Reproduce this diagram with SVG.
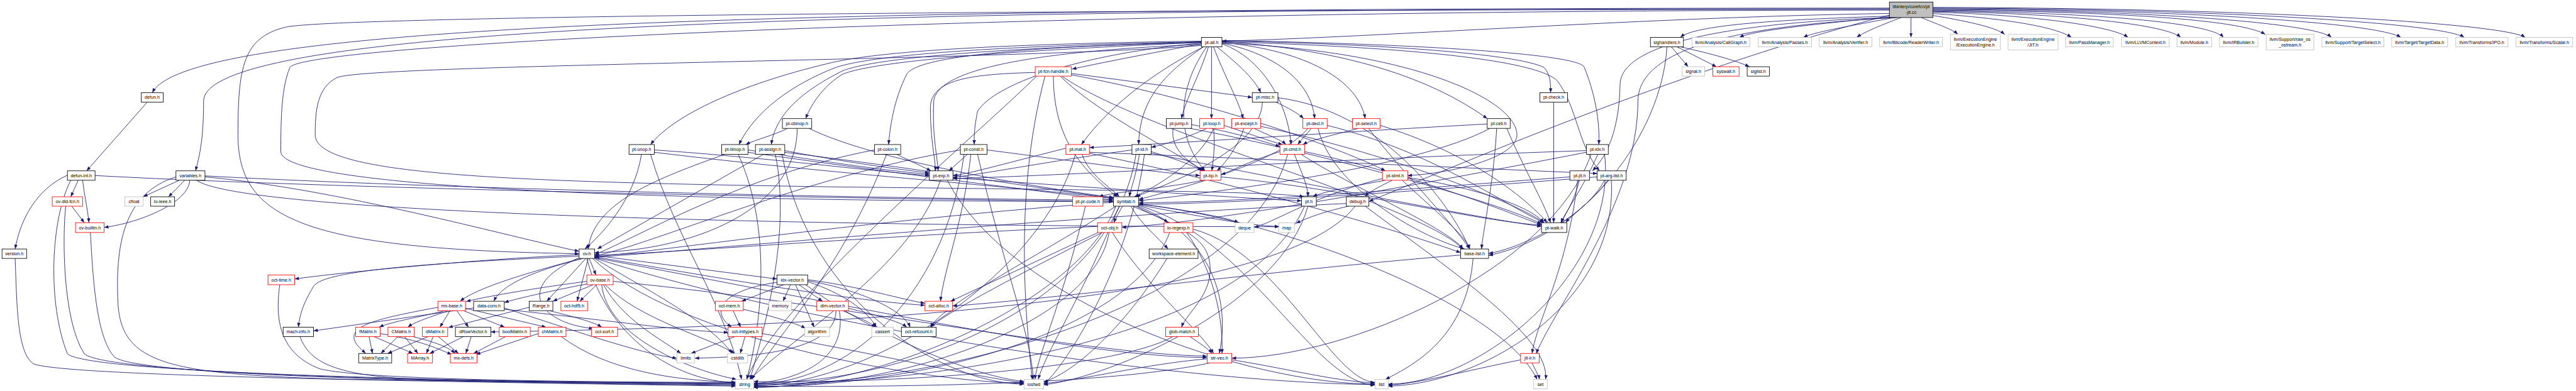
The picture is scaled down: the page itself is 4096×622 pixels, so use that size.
<svg xmlns="http://www.w3.org/2000/svg" width="4096" height="622" viewBox="0 0 4096 622">
<defs>
<marker id="a" viewBox="0 0 13 10" refX="13" refY="5" markerWidth="13" markerHeight="10" orient="auto" markerUnits="userSpaceOnUse"><path d="M0,0L13,5L0,10z" fill="#191970"/></marker>
<style>
.e path{fill:none;stroke:#191970;stroke-width:1.6;marker-end:url(#a)}
.nd rect{fill:#fff;stroke:#000;stroke-width:1.6}
.g rect{stroke:#bfbfbf}
.r rect{stroke:#ff0000}
.root rect{fill:#bfbfbf}
.nd text{font-family:"Liberation Sans",Arial,sans-serif;font-size:13.4px;fill:#000;text-anchor:middle}
</style>
</defs>
<rect x="0" y="0" width="4096" height="622" style="fill:#fff;stroke:none"/>
<g transform="scale(0.536)">
<g id="edges" class="e">
<!-- root -->
<path d="M5605,40 C4900,50 4100,110 3625,122"/>
<path d="M5605,24 C2500,24 560,60 452,275"/>
<path d="M5605,26 C2800,26 604,60 604,300 C604,420 590,470 580,507"/>
<path d="M5605,28 C3000,28 1000,50 850,80 C720,110 706,200 706,400 C706,650 900,740 1718,753"/>
<path d="M5605,30 C3000,30 900,130 860,200 C835,260 833,350 833,450 C833,560 2000,598 3303,598"/>
<path d="M5605,45 C5000,200 4300,500 4061,598"/>
<path d="M5625,52 C5300,60 4810,100 4806,250 C4803,400 4760,470 4724,507"/>
<path d="M5630,52 C5300,70 4860,110 4859,300 C4858,600 4620,900 4557,1049"/>
<path d="M5605,48 C5200,60 5020,80 4985,111"/>
<path d="M5610,50 C5400,70 5200,90 5160,111"/>
<path d="M5620,52 C5500,75 5380,95 5350,111"/>
<path d="M5640,52 C5580,75 5530,95 5508,111"/>
<path d="M5669,52 L5669,111"/>
<path d="M5700,52 C5740,70 5790,85 5808,102"/>
<path d="M5734,46 C5820,60 5920,80 5947,102"/>
<path d="M5734,40 C5950,55 6100,80 6145,111"/>
<path d="M5734,36 C6050,45 6270,80 6313,111"/>
<path d="M5734,34 C6150,40 6430,75 6469,111"/>
<path d="M5734,32 C6250,38 6560,70 6596,111"/>
<path d="M5734,30 C6300,34 6650,60 6720,102"/>
<path d="M5734,28 C6400,30 6870,70 6916,111"/>
<path d="M5734,26 C6500,28 7060,70 7122,111"/>
<path d="M5734,24 C6600,26 7250,70 7310,111"/>
<path d="M5734,22 C6700,24 7430,70 7491,111"/>
<!-- pt-all.h -->
<path d="M3564,130 C3400,160 3250,190 3180,205"/>
<path d="M3610,139 C3660,180 3720,230 3740,275"/>
<path d="M3585,139 C3560,220 3515,300 3505,352"/>
<path d="M3594,139 L3594,352"/>
<path d="M3600,139 C3630,220 3675,300 3688,352"/>
<path d="M3564,125 C3000,140 2720,170 2690,220 C2650,300 2640,380 2636,429"/>
<path d="M3564,128 C3200,160 2950,250 2900,330 C2890,380 2890,400 2890,429"/>
<path d="M3570,139 C3450,200 3300,300 3208,429"/>
<path d="M3570,139 C3450,220 3380,300 3378,429"/>
<path d="M3564,132 C3100,150 2780,200 2770,300 C2765,400 2780,460 2783,507"/>
<path d="M3580,139 C3500,250 3480,400 3575,507"/>
<path d="M3564,126 C3000,150 2600,180 2500,220 C2450,250 2410,300 2390,352"/>
<path d="M3564,122 C3000,130 2600,150 2450,190 C2200,250 2000,340 1930,429"/>
<path d="M3564,124 C3000,135 2600,160 2480,200 C2350,250 2240,330 2192,429"/>
<path d="M3564,126 C3000,140 2600,170 2500,210 C2360,280 2300,350 2288,429"/>
<path d="M3625,130 C3740,170 3820,300 3830,429"/>
<path d="M3625,128 C3780,160 3890,240 3900,352"/>
<path d="M3625,126 C3880,150 4030,240 4050,352"/>
<path d="M3625,124 C3900,140 4200,200 4412,352"/>
<path d="M3625,122 C4100,130 4500,160 4580,200 C4600,220 4600,250 4600,275"/>
<path d="M3625,120 C4200,130 4690,160 4700,200 C4740,300 4745,380 4743,429"/>
<path d="M3625,124 C4200,140 4560,180 4620,240 C4680,320 4680,430 4745,507"/>
<path d="M3625,128 C4200,150 4500,300 4500,400 C4500,470 4300,515 4176,521"/>
<path d="M3564,135 C3000,180 1100,190 1000,230 C940,260 935,330 935,400 C935,520 1500,540 2500,555 C3400,565 3800,570 3868,584"/>
<!-- pt-fcn-handle.h -->
<path d="M3178,218 L3715,289"/>
<path d="M3071,215 C2900,220 2760,230 2760,320 C2760,420 2775,470 2775,507"/>
<path d="M3145,226 C3250,330 3450,430 3570,507"/>
<path d="M3125,226 C3125,400 3200,500 3315,584"/>
<path d="M3150,226 C3400,400 4200,600 4340,739"/>
<path d="M3178,222 C3600,300 4000,450 4110,507"/>
<path d="M3075,226 C2900,400 2300,900 2215,1126"/>
<path d="M3100,226 C3000,600 3050,1000 3062,1126"/>
<!-- pt-misc.h -->
<path d="M3785,303 C3820,320 3850,335 3867,352"/>
<path d="M3791,290 C4100,330 4300,600 4360,739"/>
<path d="M3745,303 C3740,450 3450,550 3370,584"/>
<!-- pt-check.h -->
<path d="M4609,303 L4609,661"/>
<!-- pt-cbinop.h -->
<path d="M2336,381 C2300,400 2240,415 2212,429"/>
<path d="M2365,381 C2365,600 2100,740 1764,750"/>
<path d="M2400,381 C2600,480 3100,560 3303,586"/>
<!-- pt-unop.h -->
<path d="M1941,445 C2300,470 2600,510 2757,521"/>
<path d="M1903,458 C1880,600 1780,700 1735,739"/>
<path d="M1930,458 C2000,700 2150,900 2200,1126"/>
<path d="M1941,452 C2500,520 3100,560 3303,590"/>
<!-- pt-binop.h -->
<path d="M2219,445 C2450,480 2650,510 2757,517"/>
<path d="M2150,458 C1950,530 1760,600 1745,739"/>
<path d="M2190,458 C2300,700 2250,1000 2215,1126"/>
<path d="M2219,452 C2700,520 3100,570 3303,594"/>
<!-- pt-assign.h -->
<path d="M2328,447 C2500,480 2680,505 2757,513"/>
<path d="M2265,458 L1772,739"/>
<path d="M2300,458 C2350,700 2260,1000 2225,1126"/>
<path d="M2328,452 C2800,510 3150,570 3303,588"/>
<path d="M2320,458 C2400,900 2800,1140 3038,1140"/>
<!-- pt-colon.h -->
<path d="M2660,458 L2762,507"/>
<path d="M2594,445 C2200,520 1900,700 1764,756"/>
<path d="M2630,458 C2500,800 2300,1000 2230,1126"/>
<!-- pt-const.h -->
<path d="M2870,458 L2815,507"/>
<path d="M2928,445 C3200,480 3450,515 3560,521"/>
<path d="M2880,458 C2860,650 2800,800 2790,894"/>
<path d="M2849,445 C2400,520 1950,720 1764,760"/>
<path d="M2900,458 C2980,800 3060,1000 3065,1126"/>
<path d="M2860,458 C2800,900 2500,1140 2236,1140"/>
<!-- pt-mat.h -->
<path d="M3162,440 C3000,480 2880,515 2827,521"/>
<path d="M3232,452 C3700,470 4400,500 4738,515"/>
<path d="M3232,455 C3700,550 4200,700 4333,750"/>
<path d="M3210,458 C3230,520 3300,560 3320,584"/>
<path d="M3190,458 C3100,800 2600,1140 2236,1145"/>
<!-- pt-id.h -->
<path d="M3415,450 C3480,470 3540,490 3565,507"/>
<path d="M3358,445 C3100,480 2900,520 2827,526"/>
<path d="M3415,455 C3900,550 4400,650 4573,672"/>
<path d="M3380,458 C3370,520 3355,560 3350,584"/>
<path d="M3370,458 C3300,900 2700,1140 2236,1137"/>
<path d="M3395,458 C3350,800 3150,1100 3096,1140"/>
<!-- pt-jump.h -->
<path d="M3535,370 C3650,390 3750,420 3797,435"/>
<path d="M3480,381 C3470,450 3540,490 3575,507"/>
<path d="M3530,381 C3900,450 4450,600 4573,665"/>
<!-- pt-loop.h -->
<path d="M3631,372 C3700,395 3770,420 3805,429"/>
<path d="M3580,381 C3520,410 3450,430 3415,437"/>
<path d="M3600,381 C3560,480 3420,560 3365,584"/>
<path d="M3600,381 C3605,430 3600,470 3595,507"/>
<!-- pt-except.h -->
<path d="M3720,381 C3760,400 3800,415 3815,429"/>
<path d="M3690,381 C3670,440 3630,490 3610,507"/>
<path d="M3740,375 C4100,450 4500,600 4580,661"/>
<!-- pt-cmd.h -->
<path d="M3840,458 C3860,510 3880,550 3880,584"/>
<path d="M3797,450 C3700,480 3650,510 3622,518"/>
<path d="M3870,450 C4200,520 4450,620 4573,668"/>
<path d="M3860,458 C4000,550 4300,680 4340,739"/>
<path d="M3820,458 C3700,900 2800,1145 2236,1143"/>
<!-- pt-decl.h -->
<path d="M3890,381 C3875,400 3860,415 3850,429"/>
<path d="M3910,381 C3950,550 4200,700 4345,739"/>
<path d="M3937,372 C4250,450 4450,600 4580,661"/>
<path d="M3880,381 C3800,480 3500,560 3378,592"/>
<!-- pt-select.h -->
<path d="M4030,381 C3960,400 3890,415 3865,429"/>
<path d="M4060,381 C4150,500 4300,650 4360,739"/>
<path d="M4094,372 C4350,450 4520,580 4590,661"/>
<!-- pt-cell.h -->
<path d="M4412,368 C4000,390 3500,425 3232,438"/>
<path d="M4440,381 C4430,550 4400,680 4395,739"/>
<path d="M4470,381 C4520,500 4580,600 4600,661"/>
<path d="M4420,381 C4200,500 3600,570 3378,596"/>
<!-- pt-idx.h -->
<path d="M4706,447 C4000,470 3200,520 2827,530"/>
<path d="M4720,458 C4600,800 4000,1063 3654,1063"/>
<path d="M4760,458 C4800,800 4400,1140 4118,1140"/>
<path d="M4706,452 C4200,550 3600,660 3328,675"/>
<path d="M4740,458 C4700,550 4650,620 4630,661"/>
<!-- pt-exp.h -->
<path d="M2827,528 C3300,560 3700,590 3861,596"/>
<path d="M2790,535 C2700,800 2350,1000 2225,1126"/>
<path d="M2810,535 C3000,900 3700,1140 4079,1140"/>
<!-- pt-bp.h -->
<path d="M3570,535 C3450,560 3300,570 3260,584"/>
<path d="M3622,525 C4000,560 4400,660 4573,668"/>
<!-- pt-stmt.h -->
<path d="M4110,535 C4000,555 3920,570 3895,584"/>
<path d="M4130,535 C4090,555 4060,570 4050,584"/>
<path d="M4160,535 C4250,620 4350,700 4360,739"/>
<path d="M4176,527 C4400,560 4550,620 4580,661"/>
<path d="M4101,530 C3900,580 3780,660 3720,675"/>
<!-- pt-jit.h -->
<path d="M4680,535 C4650,800 4560,950 4545,1049"/>
<path d="M4685,535 C4670,600 4640,640 4632,661"/>
<path d="M4657,525 C4200,560 3700,600 3378,602"/>
<!-- pt-arg-list.h -->
<path d="M4760,535 C4700,650 4500,740 4416,752"/>
<path d="M4780,535 C4800,900 4400,1140 4118,1146"/>
<path d="M4770,535 C4720,600 4660,640 4645,661"/>
<path d="M4738,525 C4300,560 3700,605 3378,606"/>
<!-- defun.h / defun-int.h -->
<path d="M437,303 L257,507"/>
<path d="M232,535 L210,584"/>
<path d="M245,535 C250,580 260,620 264,661"/>
<path d="M200,520 C110,560 60,650 45,739"/>
<path d="M282,521 C1000,560 2500,590 3303,598"/>
<path d="M210,535 C150,650 140,900 200,1050 C260,1110 1500,1135 2182,1138"/>
<!-- variables.h -->
<path d="M532,535 L425,584"/>
<path d="M548,535 L500,584"/>
<path d="M563,535 C560,600 420,660 309,675"/>
<path d="M608,525 C1000,560 1500,700 1718,746"/>
<path d="M608,522 C1300,560 2600,590 3303,594"/>
<path d="M522,525 C380,570 340,700 350,900 C360,1080 500,1110 1000,1125 C1600,1135 2000,1138 2182,1140"/>
<path d="M583,535 C700,620 2000,670 3794,673"/>
<!-- ov-dld-fcn.h / ov-builtin.h / version.h -->
<path d="M213,612 L250,661"/>
<path d="M195,612 C185,700 185,950 250,1050 C320,1115 1500,1135 2182,1142"/>
<path d="M268,690 C275,800 282,1000 340,1060 C420,1120 1500,1136 2182,1144"/>
<path d="M45,767 C50,900 50,1050 100,1080 C200,1120 1500,1135 2182,1146"/>
<!-- symtab.h -->
<path d="M3330,612 C3320,630 3310,645 3305,661"/>
<path d="M3360,612 C3400,630 3445,645 3465,661"/>
<path d="M3378,605 C3500,620 3640,645 3675,661"/>
<path d="M3378,608 C3550,640 3700,670 3794,672"/>
<path d="M3355,612 C3380,660 3440,710 3465,739"/>
<path d="M3370,612 C3500,680 3590,700 3590,800 C3590,880 3520,930 3505,971"/>
<path d="M3375,612 C3600,700 3650,900 3617,1049"/>
<path d="M3378,610 C3700,700 3900,1140 4079,1143"/>
<path d="M3378,606 C3800,650 4450,900 4560,1126"/>
<path d="M3310,612 C3200,900 2600,1150 2236,1150"/>
<path d="M3303,600 C2600,650 2000,740 1764,762"/>
<path d="M3310,612 C3100,750 2800,900 2760,971"/>
<path d="M3320,612 C3200,900 3100,1050 3080,1126"/>
<!-- oct-obj.h -->
<path d="M3258,690 L2820,894"/>
<path d="M3300,690 C3400,850 3560,980 3600,1049"/>
<path d="M3256,672 C2600,700 2000,750 1764,758"/>
<path d="M3290,690 C3250,950 2700,1150 2236,1148"/>
<path d="M3270,690 C3050,800 2800,930 2762,971"/>
<!-- lo-regexp.h / workspace-element.h / glob-match.h / str-vec.h -->
<path d="M3520,690 C3600,800 3630,950 3625,1049"/>
<path d="M3539,680 C3800,750 3950,1130 4079,1135"/>
<path d="M3470,690 C3350,1000 2700,1148 2236,1148"/>
<path d="M3462,767 C3350,950 3200,1100 3096,1134"/>
<path d="M3530,999 C3560,1020 3585,1035 3595,1049"/>
<path d="M3480,999 C3300,1100 2600,1140 2236,1132"/>
<path d="M3581,1065 C3400,1080 3200,1130 3096,1138"/>
<path d="M3654,1068 C3800,1090 3950,1130 4079,1137"/>
<path d="M3590,1077 C3300,1140 2700,1150 2236,1146"/>
<!-- base-list.h / jit-ir.h / debug.h / pt.h / pt-pr-code.h -->
<path d="M4370,767 C4350,1000 4200,1080 4110,1126"/>
<path d="M4333,757 C3800,800 3100,890 2826,908"/>
<path d="M4511,1068 C4350,1100 4200,1140 4118,1143"/>
<path d="M4545,1077 C4555,1100 4565,1115 4567,1126"/>
<path d="M4000,612 C3920,630 3870,650 3845,663"/>
<path d="M4050,612 C4300,800 4600,1000 4585,1126"/>
<path d="M3994,604 C3200,640 2200,730 1764,764"/>
<path d="M4020,612 C3800,900 2500,970 1456,985"/>
<path d="M3870,612 C3700,1000 2800,1140 2236,1140"/>
<path d="M3880,612 C3800,900 3300,1120 3096,1142"/>
<path d="M3220,612 C3150,900 3080,1050 3070,1126"/>
<!-- sighandlers.h -->
<path d="M4958,139 L5008,198"/>
<path d="M4975,139 L5092,198"/>
<path d="M4985,139 C5080,160 5150,180 5190,198"/>
<path d="M4945,139 C4930,400 4700,700 4416,758"/>
<!-- ov.h -->
<path d="M1725,767 C1600,800 1420,850 1365,894"/>
<path d="M1730,767 C1600,800 1490,840 1465,894"/>
<path d="M1738,767 L1622,894"/>
<path d="M1745,767 L1712,894"/>
<path d="M1748,767 L1768,816"/>
<path d="M1764,758 L2305,828"/>
<path d="M1764,767 C1900,850 2100,950 2172,1049"/>
<path d="M1718,756 C1400,770 1000,810 874,828"/>
<path d="M1718,760 C1300,780 960,800 930,850 C900,900 890,930 885,971"/>
<path d="M1764,762 C2100,820 2500,890 2744,906"/>
<path d="M1764,765 C2500,900 3200,1060 3581,1061"/>
<path d="M1741,767 C1800,1000 2000,1130 2182,1136"/>
<path d="M1758,767 C2000,1000 2700,1130 3038,1138"/>
<path d="M1764,766 C2500,1000 3600,1140 4079,1141"/>
<path d="M1718,765 C1520,850 1600,960 1760,975"/>
<!-- ov-base.h -->
<path d="M1741,835 C1550,860 1420,885 1383,895"/>
<path d="M1745,842 C1600,870 1520,890 1496,898"/>
<path d="M1760,845 L1640,894"/>
<path d="M1770,845 L1720,894"/>
<path d="M1795,845 C1900,950 2100,1000 2180,1049"/>
<path d="M1790,845 C1850,950 1950,1000 2020,1049"/>
<path d="M1785,845 C1800,1000 2050,1100 2185,1126"/>
<path d="M1819,835 C2500,900 3200,1050 3581,1057"/>
<!-- idx-vector.h -->
<path d="M2325,845 L2200,894"/>
<path d="M2345,845 L2323,894"/>
<path d="M2370,845 L2440,894"/>
<path d="M2360,845 L2415,971"/>
<path d="M2305,838 C2150,860 2100,920 2170,971"/>
<path d="M2396,836 C2500,870 2570,920 2600,971"/>
<path d="M2396,833 C2550,860 2680,920 2700,971"/>
<path d="M2396,830 C2550,850 2680,890 2744,900"/>
<path d="M2390,845 C2600,1000 2900,1120 3038,1132"/>
<!-- oct-mem.h / dim-vector.h / oct-inttypes.h -->
<path d="M2175,922 L2197,971"/>
<path d="M2205,918 C2300,940 2360,960 2390,974"/>
<path d="M2500,922 C2540,940 2580,955 2598,971"/>
<path d="M2517,915 C2600,935 2670,955 2690,971"/>
<path d="M2480,922 C2480,1050 2200,1060 2061,1063"/>
<path d="M2490,922 C2520,1100 2300,1135 2236,1138"/>
<path d="M2180,999 L2050,1049"/>
<path d="M2210,999 L2196,1049"/>
<path d="M2261,990 C2600,1050 2900,1120 3038,1136"/>
<!-- mx-base.h -->
<path d="M1320,922 C1250,940 1160,955 1125,971"/>
<path d="M1330,922 C1280,940 1230,955 1210,971"/>
<path d="M1335,922 L1305,971"/>
<path d="M1355,922 L1390,971"/>
<path d="M1375,922 L1497,971"/>
<path d="M1381,915 L1620,971"/>
<path d="M1299,912 C1150,940 1050,960 1050,1000 C1050,1020 1070,1035 1085,1049"/>
<!-- data-conv.h / Range.h -->
<path d="M1405,914 L930,982"/>
<path d="M1496,914 C1700,980 1900,1050 2008,1063"/>
<path d="M1496,918 C1800,950 2000,980 2160,987"/>
<path d="M1570,912 L1330,972"/>
<path d="M1630,922 C1700,940 1760,955 1785,971"/>
<!-- matrices -->
<path d="M1095,999 L1105,1049"/>
<path d="M1110,999 L1225,1049"/>
<path d="M1128,990 C1250,1010 1310,1040 1340,1052"/>
<path d="M1180,999 L1130,1049"/>
<path d="M1200,999 L1240,1049"/>
<path d="M1225,999 C1290,1015 1330,1030 1350,1049"/>
<path d="M1270,999 L1150,1049"/>
<path d="M1285,999 L1265,1049"/>
<path d="M1300,999 L1360,1049"/>
<path d="M1375,999 L1275,1049"/>
<path d="M1398,999 L1382,1049"/>
<path d="M1500,999 L1405,1049"/>
<path d="M1597,990 L1412,1052"/>
<path d="M1665,999 C1800,1100 2000,1130 2182,1134"/>
<!-- mach-info.h / oct-time.h -->
<path d="M890,999 C920,1080 1000,1120 1300,1128 C1700,1134 2000,1136 2182,1137"/>
<path d="M830,845 C815,950 830,1050 950,1095 C1100,1130 1800,1134 2182,1135"/>
</g>

<g id="n-root" class="nd root"><rect x="5605" y="6" width="129" height="46"/><text x="5669.5" y="24.5">libinterp/corefcn/pt</text><text x="5669.5" y="41.5">-jit.cc</text></g>
<g id="n-pt-all" class="nd"><rect x="3564" y="111" width="61" height="28"/><text x="3594.5" y="129.7">pt-all.h</text></g>
<g id="n-sighandlers" class="nd"><rect x="4896" y="111" width="98" height="28"/><text x="4945" y="129.7">sighandlers.h</text></g>
<g id="n-callgraph" class="nd g"><rect x="5019" y="111" width="172" height="28"/><text x="5105" y="129.7">llvm/Analysis/CallGraph.h</text></g>
<g id="n-passes" class="nd g"><rect x="5216" y="111" width="158" height="28"/><text x="5295" y="129.7">llvm/Analysis/Passes.h</text></g>
<g id="n-verifier" class="nd g"><rect x="5397" y="111" width="156" height="28"/><text x="5475" y="129.7">llvm/Analysis/Verifier.h</text></g>
<g id="n-readerwriter" class="nd g"><rect x="5576" y="111" width="186" height="28"/><text x="5669" y="129.7">llvm/Bitcode/ReaderWriter.h</text></g>
<g id="n-execengine" class="nd g"><rect x="5786" y="102" width="148" height="46"/><text x="5860" y="120.5">llvm/ExecutionEngine</text><text x="5860" y="137.5">/ExecutionEngine.h</text></g>
<g id="n-jit" class="nd g"><rect x="5957" y="102" width="148" height="46"/><text x="6031" y="120.5">llvm/ExecutionEngine</text><text x="6031" y="137.5">/JIT.h</text></g>
<g id="n-passmanager" class="nd g"><rect x="6128" y="111" width="141" height="28"/><text x="6198.5" y="129.7">llvm/PassManager.h</text></g>
<g id="n-llvmcontext" class="nd g"><rect x="6294" y="111" width="141" height="28"/><text x="6364.5" y="129.7">llvm/LLVMContext.h</text></g>
<g id="n-module" class="nd g"><rect x="6458" y="111" width="103" height="28"/><text x="6509.5" y="129.7">llvm/Module.h</text></g>
<g id="n-irbuilder" class="nd g"><rect x="6584" y="111" width="114" height="28"/><text x="6641" y="129.7">llvm/IRBuilder.h</text></g>
<g id="n-rawos" class="nd g"><rect x="6723" y="102" width="141" height="46"/><text x="6793.5" y="120.5">llvm/Support/raw_os</text><text x="6793.5" y="137.5">_ostream.h</text></g>
<g id="n-targetselect" class="nd g"><rect x="6888" y="111" width="184" height="28"/><text x="6980" y="129.7">llvm/Support/TargetSelect.h</text></g>
<g id="n-targetdata" class="nd g"><rect x="7095" y="111" width="166" height="28"/><text x="7178" y="129.7">llvm/Target/TargetData.h</text></g>
<g id="n-ipo" class="nd g"><rect x="7285" y="111" width="155" height="28"/><text x="7362.5" y="129.7">llvm/Transforms/IPO.h</text></g>
<g id="n-scalar" class="nd g"><rect x="7464" y="111" width="168" height="28"/><text x="7548" y="129.7">llvm/Transforms/Scalar.h</text></g>

<g id="n-pt-fcn-handle" class="nd r"><rect x="3071" y="198" width="107" height="28"/><text x="3124.5" y="216.7">pt-fcn-handle.h</text></g>
<g id="n-signal" class="nd g"><rect x="4990" y="198" width="67" height="28"/><text x="5023.5" y="216.7">signal.h</text></g>
<g id="n-syswait" class="nd r"><rect x="5081" y="198" width="78" height="28"/><text x="5120" y="216.7">syswait.h</text></g>
<g id="n-siglist" class="nd"><rect x="5183" y="198" width="66" height="28"/><text x="5216" y="216.7">siglist.h</text></g>

<g id="n-defun" class="nd"><rect x="419" y="275" width="65" height="28"/><text x="451.5" y="293.7">defun.h</text></g>
<g id="n-pt-misc" class="nd"><rect x="3715" y="275" width="76" height="28"/><text x="3753" y="293.7">pt-misc.h</text></g>
<g id="n-pt-check" class="nd"><rect x="4568" y="275" width="82" height="28"/><text x="4609" y="293.7">pt-check.h</text></g>

<g id="n-pt-cbinop" class="nd"><rect x="2321" y="352" width="87" height="29"/><text x="2364.5" y="371.2">pt-cbinop.h</text></g>
<g id="n-pt-jump" class="nd"><rect x="3460" y="352" width="75" height="29"/><text x="3497.5" y="371.2">pt-jump.h</text></g>
<g id="n-pt-loop" class="nd r"><rect x="3559" y="352" width="72" height="29"/><text x="3595" y="371.2">pt-loop.h</text></g>
<g id="n-pt-except" class="nd r"><rect x="3654" y="352" width="86" height="29"/><text x="3697" y="371.2">pt-except.h</text></g>
<g id="n-pt-decl" class="nd r"><rect x="3865" y="352" width="72" height="29"/><text x="3901" y="371.2">pt-decl.h</text></g>
<g id="n-pt-select" class="nd r"><rect x="4012" y="352" width="82" height="29"/><text x="4053" y="371.2">pt-select.h</text></g>
<g id="n-pt-cell" class="nd"><rect x="4412" y="352" width="68" height="29"/><text x="4446" y="371.2">pt-cell.h</text></g>

<g id="n-pt-unop" class="nd"><rect x="1866" y="429" width="75" height="29"/><text x="1903.5" y="448.2">pt-unop.h</text></g>
<g id="n-pt-binop" class="nd"><rect x="2141" y="429" width="78" height="29"/><text x="2180" y="448.2">pt-binop.h</text></g>
<g id="n-pt-assign" class="nd"><rect x="2241" y="429" width="87" height="29"/><text x="2284.5" y="448.2">pt-assign.h</text></g>
<g id="n-pt-colon" class="nd"><rect x="2594" y="429" width="78" height="29"/><text x="2633" y="448.2">pt-colon.h</text></g>
<g id="n-pt-const" class="nd"><rect x="2849" y="429" width="79" height="29"/><text x="2888.5" y="448.2">pt-const.h</text></g>
<g id="n-pt-mat" class="nd r"><rect x="3162" y="429" width="70" height="29"/><text x="3197" y="448.2">pt-mat.h</text></g>
<g id="n-pt-id" class="nd"><rect x="3358" y="429" width="57" height="29"/><text x="3386.5" y="448.2">pt-id.h</text></g>
<g id="n-pt-cmd" class="nd r"><rect x="3797" y="429" width="73" height="29"/><text x="3833.5" y="448.2">pt-cmd.h</text></g>
<g id="n-pt-idx" class="nd"><rect x="4706" y="429" width="65" height="29"/><text x="4738.5" y="448.2">pt-idx.h</text></g>

<g id="n-defun-int" class="nd"><rect x="200" y="507" width="82" height="28"/><text x="241" y="525.7">defun-int.h</text></g>
<g id="n-variables" class="nd"><rect x="522" y="507" width="86" height="28"/><text x="565" y="525.7">variables.h</text></g>
<g id="n-pt-exp" class="nd"><rect x="2757" y="507" width="70" height="28"/><text x="2792" y="525.7">pt-exp.h</text></g>
<g id="n-pt-bp" class="nd r"><rect x="3560" y="507" width="62" height="28"/><text x="3591" y="525.7">pt-bp.h</text></g>
<g id="n-pt-stmt" class="nd r"><rect x="4101" y="507" width="75" height="28"/><text x="4138.5" y="525.7">pt-stmt.h</text></g>
<g id="n-pt-jit" class="nd"><rect x="4657" y="507" width="58" height="28"/><text x="4686" y="525.7">pt-jit.h</text></g>
<g id="n-pt-arg-list" class="nd"><rect x="4738" y="507" width="86" height="28"/><text x="4781" y="525.7">pt-arg-list.h</text></g>

<g id="n-ov-dld-fcn" class="nd r"><rect x="155" y="584" width="90" height="28"/><text x="200" y="602.7">ov-dld-fcn.h</text></g>
<g id="n-cfloat" class="nd g"><rect x="370" y="584" width="55" height="28"/><text x="397.5" y="602.7">cfloat</text></g>
<g id="n-lo-ieee" class="nd"><rect x="447" y="584" width="71" height="28"/><text x="482.5" y="602.7">lo-ieee.h</text></g>
<g id="n-pt-pr-code" class="nd r"><rect x="3182" y="584" width="90" height="28"/><text x="3227" y="602.7">pt-pr-code.h</text></g>
<g id="n-symtab" class="nd"><rect x="3303" y="584" width="75" height="28"/><text x="3340.5" y="602.7">symtab.h</text></g>
<g id="n-pt" class="nd"><rect x="3861" y="584" width="44" height="28"/><text x="3883" y="602.7">pt.h</text></g>
<g id="n-debug" class="nd"><rect x="3994" y="584" width="67" height="28"/><text x="4027.5" y="602.7">debug.h</text></g>

<g id="n-ov-builtin" class="nd r"><rect x="224" y="661" width="85" height="29"/><text x="266.5" y="680.2">ov-builtin.h</text></g>
<g id="n-oct-obj" class="nd r"><rect x="3256" y="661" width="72" height="29"/><text x="3292" y="680.2">oct-obj.h</text></g>
<g id="n-lo-regexp" class="nd r"><rect x="3453" y="661" width="86" height="29"/><text x="3496" y="680.2">lo-regexp.h</text></g>
<g id="n-deque" class="nd g"><rect x="3664" y="661" width="56" height="29"/><text x="3692" y="680.2">deque</text></g>
<g id="n-map" class="nd g"><rect x="3794" y="661" width="46" height="29"/><text x="3817" y="680.2">map</text></g>
<g id="n-pt-walk" class="nd"><rect x="4573" y="661" width="75" height="29"/><text x="4610.5" y="680.2">pt-walk.h</text></g>

<g id="n-version" class="nd"><rect x="6" y="739" width="73" height="28"/><text x="42.5" y="757.7">version.h</text></g>
<g id="n-ov" class="nd"><rect x="1718" y="739" width="46" height="28"/><text x="1741" y="757.7">ov.h</text></g>
<g id="n-workspace-element" class="nd"><rect x="3409" y="739" width="145" height="28"/><text x="3481.5" y="757.7">workspace-element.h</text></g>
<g id="n-base-list" class="nd"><rect x="4333" y="739" width="83" height="28"/><text x="4374.5" y="757.7">base-list.h</text></g>

<g id="n-oct-time" class="nd r"><rect x="795" y="816" width="79" height="29"/><text x="834.5" y="835.2">oct-time.h</text></g>
<g id="n-ov-base" class="nd r"><rect x="1741" y="816" width="78" height="29"/><text x="1780" y="835.2">ov-base.h</text></g>
<g id="n-idx-vector" class="nd"><rect x="2305" y="816" width="91" height="29"/><text x="2350.5" y="835.2">idx-vector.h</text></g>

<g id="n-mx-base" class="nd r"><rect x="1299" y="894" width="82" height="28"/><text x="1340" y="912.7">mx-base.h</text></g>
<g id="n-data-conv" class="nd"><rect x="1405" y="894" width="91" height="28"/><text x="1450.5" y="912.7">data-conv.h</text></g>
<g id="n-range" class="nd"><rect x="1570" y="894" width="70" height="28"/><text x="1605" y="912.7">Range.h</text></g>
<g id="n-oct-hdf5" class="nd r"><rect x="1664" y="894" width="79" height="28"/><text x="1703.5" y="912.7">oct-hdf5.h</text></g>
<g id="n-oct-mem" class="nd r"><rect x="2122" y="894" width="83" height="28"/><text x="2163.5" y="912.7">oct-mem.h</text></g>
<g id="n-memory" class="nd g"><rect x="2281" y="894" width="67" height="28"/><text x="2314.5" y="912.7">memory</text></g>
<g id="n-dim-vector" class="nd r"><rect x="2423" y="894" width="94" height="28"/><text x="2470" y="912.7">dim-vector.h</text></g>
<g id="n-oct-alloc" class="nd r"><rect x="2744" y="894" width="82" height="28"/><text x="2785" y="912.7">oct-alloc.h</text></g>

<g id="n-mach-info" class="nd"><rect x="840" y="971" width="90" height="28"/><text x="885" y="989.7">mach-info.h</text></g>
<g id="n-fmatrix" class="nd r"><rect x="1055" y="971" width="73" height="28"/><text x="1091.5" y="989.7">fMatrix.h</text></g>
<g id="n-cmatrix" class="nd r"><rect x="1151" y="971" width="78" height="28"/><text x="1190" y="989.7">CMatrix.h</text></g>
<g id="n-dmatrix" class="nd r"><rect x="1253" y="971" width="75" height="28"/><text x="1290.5" y="989.7">dMatrix.h</text></g>
<g id="n-drowvector" class="nd"><rect x="1351" y="971" width="105" height="28"/><text x="1403.5" y="989.7">dRowVector.h</text></g>
<g id="n-boolmatrix" class="nd r"><rect x="1481" y="971" width="92" height="28"/><text x="1527" y="989.7">boolMatrix.h</text></g>
<g id="n-chmatrix" class="nd r"><rect x="1597" y="971" width="82" height="28"/><text x="1638" y="989.7">chMatrix.h</text></g>
<g id="n-oct-sort" class="nd r"><rect x="1755" y="971" width="77" height="28"/><text x="1793.5" y="989.7">oct-sort.h</text></g>
<g id="n-oct-inttypes" class="nd r"><rect x="2160" y="971" width="101" height="28"/><text x="2210.5" y="989.7">oct-inttypes.h</text></g>
<g id="n-algorithm" class="nd g"><rect x="2387" y="971" width="74" height="28"/><text x="2424" y="989.7">algorithm</text></g>
<g id="n-cassert" class="nd g"><rect x="2586" y="971" width="64" height="28"/><text x="2618" y="989.7">cassert</text></g>
<g id="n-oct-refcount" class="nd"><rect x="2674" y="971" width="103" height="28"/><text x="2725.5" y="989.7">oct-refcount.h</text></g>
<g id="n-glob-match" class="nd r"><rect x="3458" y="971" width="97" height="28"/><text x="3506.5" y="989.7">glob-match.h</text></g>

<g id="n-matrixtype" class="nd"><rect x="1064" y="1049" width="98" height="28"/><text x="1113" y="1067.7">MatrixType.h</text></g>
<g id="n-marray" class="nd r"><rect x="1209" y="1049" width="74" height="28"/><text x="1246" y="1067.7">MArray.h</text></g>
<g id="n-mx-defs" class="nd r"><rect x="1336" y="1049" width="79" height="28"/><text x="1375.5" y="1067.7">mx-defs.h</text></g>
<g id="n-limits" class="nd g"><rect x="2008" y="1049" width="53" height="28"/><text x="2034.5" y="1067.7">limits</text></g>
<g id="n-cstdlib" class="nd g"><rect x="2158" y="1049" width="60" height="28"/><text x="2188" y="1067.7">cstdlib</text></g>
<g id="n-str-vec" class="nd r"><rect x="3581" y="1049" width="73" height="28"/><text x="3617.5" y="1067.7">str-vec.h</text></g>
<g id="n-jit-ir" class="nd r"><rect x="4511" y="1049" width="55" height="28"/><text x="4538.5" y="1067.7">jit-ir.h</text></g>

<g id="n-string" class="nd g"><rect x="2182" y="1126" width="54" height="28"/><text x="2209" y="1144.7">string</text></g>
<g id="n-iosfwd" class="nd g"><rect x="3038" y="1126" width="58" height="28"/><text x="3067" y="1144.7">iosfwd</text></g>
<g id="n-list" class="nd g"><rect x="4079" y="1126" width="39" height="28"/><text x="4098.5" y="1144.7">list</text></g>
<g id="n-set" class="nd g"><rect x="4550" y="1126" width="40" height="28"/><text x="4570" y="1144.7">set</text></g>
</g>
</svg>
